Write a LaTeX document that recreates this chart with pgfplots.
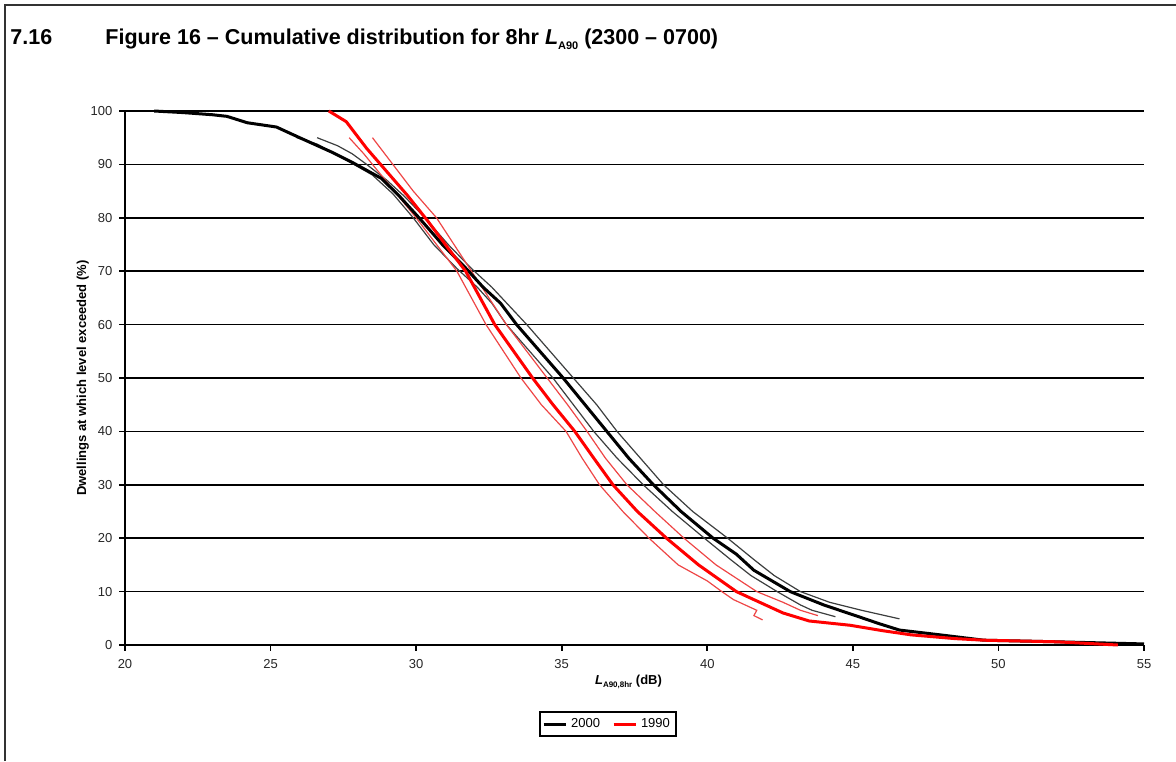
\documentclass[border=0pt]{standalone}
\usepackage{fontspec}
\setmainfont{Liberation Sans}
\usepackage{pgfplots}
\pgfplotsset{compat=1.18}
\definecolor{thinred}{RGB}{238,70,70}
\definecolor{thingray}{RGB}{60,62,62}
\begin{document}
\begin{tikzpicture}
\begin{axis}[
  at={(0,0)}, anchor=south west,
  scale only axis, width=509.5pt, height=267pt,
  xmin=20, xmax=55, ymin=0, ymax=100,
  xtick={20,25,...,55}, ytick={0,10,...,100},
  axis x line*=bottom, axis y line*=left,
  axis line style={line width=0.9pt, -},
  ymajorgrids, grid style={black, line width=0.85pt},
  tick style={black, line width=0.8pt},
  tick align=outside, major tick length=2.8pt,
  /pgf/number format/assume math mode=true,
  tick label style={font=\fontsize{6.5}{7}\selectfont, text=black!85},
  xticklabel style={yshift=-1pt},
  xlabel={\textbf{\textit{L}\raisebox{-0.5ex}{\fontsize{4}{4}\selectfont A90,8hr} (dB)}},
  ylabel={\textbf{Dwellings at which level exceeded (\%)}},
  label style={font=\fontsize{6.5}{7}\selectfont},
  xlabel style={yshift=4pt, xshift=-3pt},
  ylabel style={yshift=-6pt},
  legend columns=2,
  legend style={at={(0.474,-0.148)}, anchor=center, draw=black, line width=0.6pt,
    font=\fontsize{6.5}{7}\selectfont, inner sep=1pt,
    /tikz/every even column/.append style={column sep=4pt}},
  legend image code/.code={\draw[#1] (0pt,0pt) -- (11pt,0pt);},
  clip=false,
]
% thin bounds, 2000
\addplot[thingray, line width=0.6pt, forget plot] coordinates {
(26.6,95)(27.3,93.5)(27.8,92)(28.3,90)(29.0,87)(29.6,84)(30.3,80)(31.1,75)(31.9,70.5)(32.6,67)(33.2,63.5)(33.8,60)(34.6,55)(35.4,50)(36.2,45)(36.9,40)(37.7,35)(38.5,30)(39.5,25)(40.7,20)(41.6,16)(42.3,13)(43.2,10)(44.2,8)(45.3,6.5)(46.6,4.9)};
\addplot[thingray, line width=0.6pt, forget plot] coordinates {
(25.9,95)(26.6,93.8)(27.2,92)(27.7,90.5)(28.5,88)(29.2,84.5)(29.9,80)(30.6,75)(31.4,70.5)(32.1,67)(32.6,64)(33.1,60)(33.9,55)(34.7,50)(35.4,45)(36.1,40)(36.9,35)(37.8,30)(38.8,25)(39.9,20)(40.8,16)(41.5,13)(42.4,10)(43.2,7.5)(43.6,6.5)(44.4,5.3)};
% thin bounds, 1990
\addplot[thinred, line width=0.6pt, forget plot] coordinates {
(27.7,95)(28.2,92)(28.8,88)(29.4,84)(30.0,80)(30.7,75)(31.4,70)(31.9,65)(32.4,60)(33.0,55)(33.6,50)(34.3,45)(35.15,40)(35.7,35)(36.3,30)(37.1,25)(38.0,20)(39.0,15)(40.0,12)(40.5,10)(40.9,8.5)(41.3,7.5)(41.7,6.5)(41.6,5.5)(41.9,4.7)};
\addplot[thinred, line width=0.6pt, forget plot] coordinates {
(28.5,95)(29.2,90)(29.9,85)(30.7,80)(31.3,75)(31.9,70)(32.5,65)(33.1,60)(33.8,55)(34.5,50)(35.2,45)(35.87,40)(36.5,35)(37.24,30)(38.2,25)(39.2,20)(40.3,15)(41.0,12.5)(41.7,10)(42.6,8)(43.2,6.5)(43.8,5.5)};
% main curves
\addplot[black, line width=1.5pt] coordinates {
(21.0,100)(22.0,99.7)(23.0,99.3)(23.5,99)(24.2,97.8)(25.2,97)(26.0,95)(27.1,92.3)(27.8,90.4)(28.8,87.4)(29.4,84.2)(30.1,80)(30.9,75)(31.7,70.6)(32.3,67)(32.9,64)(33.45,60)(34.25,55)(35.05,50)(35.8,45)(36.55,40)(37.3,35)(38.15,30)(39.1,25)(40.2,20)(41.0,17)(41.6,14)(42.85,10)(44.0,7.5)(45.2,5.3)(45.9,4)(46.6,2.8)(48.0,1.9)(49.5,0.9)(52,0.6)(55,0.2)};
\addlegendentry{2000}
\addplot[red, line width=1.5pt] coordinates {
(27.0,100)(27.6,98)(28.3,93)(29.0,88.6)(29.7,84.2)(30.4,79.4)(31.1,74.3)(31.7,70)(32.2,65)(32.7,60)(33.35,55)(34.0,50)(34.7,45)(35.45,40)(36.1,35)(36.76,30)(37.6,25)(38.6,20)(39.7,15)(41.0,10)(42.0,7.5)(42.6,6)(43.5,4.5)(44.9,3.7)(46.0,2.7)(47.0,1.9)(48.5,1.2)(49.5,0.9)(52,0.6)(54.1,0)};
\addlegendentry{1990}
\end{axis}
% frame and heading
\draw[line width=1pt, black!80] (-60pt,-58pt) -- (-60pt,320pt) -- (525.5pt,320pt);
\node[anchor=base west, font=\fontsize{10.75}{12}\selectfont\bfseries, inner sep=0pt] at (-57.5pt,300pt) {7.16};
\node[anchor=base west, font=\fontsize{10.75}{12}\selectfont\bfseries, inner sep=0pt] at (-10pt,300pt)
  {Figure 16 -- Cumulative distribution for 8hr \textit{L}\raisebox{-0.4ex}{\fontsize{5.5}{6}\selectfont A90} (2300 -- 0700)};
\pgfresetboundingbox
\path[use as bounding box] (-62.5pt,-58pt) rectangle (525.5pt,322.5pt);
\end{tikzpicture}
\end{document}
